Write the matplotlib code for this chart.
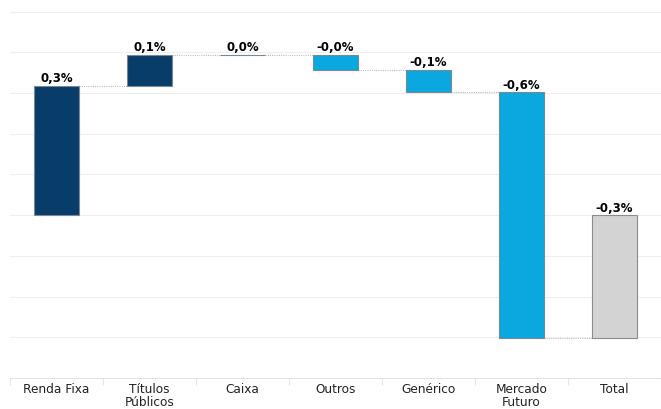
import matplotlib
matplotlib.use("Agg")
import matplotlib.pyplot as plt
import numpy as np

categories = ["Renda Fixa", "Títulos\nPúblicos", "Caixa", "Outros", "Genérico", "Mercado\nFuturo", "Total"]
values = [0.318, 0.076, 0.0005, -0.037, -0.056, -0.603]
labels = ["0,3%", "0,1%", "0,0%", "-0,0%", "-0,1%", "-0,6%", "-0,3%"]

navy = "#083c69"
light_blue = "#0ba8e0"
total_color = "#d3d3d3"

fig = plt.figure(figsize=(6.61, 4.10), dpi=100)
ax = fig.add_axes([10 / 661, 31 / 410, 651 / 661, 377 / 410])

cum = np.concatenate([[0], np.cumsum(values)])
total = cum[-1]
width = 0.49

for i, v in enumerate(values):
    start = cum[i]
    if i == 2:
        color = "#bbbbbb"
    elif v >= 0:
        color = navy
    else:
        color = light_blue
    ax.bar(i, v, bottom=start, width=width, color=color,
           edgecolor="#7a8794", linewidth=0.8, zorder=3)
    top = max(start, start + v)
    ax.text(i, top + 0.004, labels[i], ha="center", va="bottom",
            fontsize=8.5, fontweight="bold", zorder=4)

# total bar
n = len(values)
ax.bar(n, total, bottom=0, width=width, color=total_color,
       edgecolor="#8c8c8c", linewidth=0.8, zorder=3)
ax.text(n, 0.004, labels[-1], ha="center", va="bottom",
        fontsize=8.5, fontweight="bold", zorder=4)

# connectors
for i in range(n):
    ax.plot([i + width / 2, i + 1 - width / 2], [cum[i + 1], cum[i + 1]],
            linestyle=(0, (1, 1)), color="#bfbfbf", linewidth=0.8, zorder=2)

ax.set_xlim(-0.5, 6.43)
ax.set_ylim(-0.4, 0.526)
ax.set_yticks(np.arange(-0.3, 0.51, 0.1))
ax.yaxis.grid(True, color="#eeeeee", linewidth=0.8, zorder=0)
ax.tick_params(axis="y", left=False, labelleft=False)

ax.set_xticks(range(len(categories)))
ax.set_xticklabels(categories, fontsize=8.7, color="#222222", linespacing=1.0)
ax.tick_params(axis="x", length=0, pad=3)
ax.set_xticks(np.arange(-0.5, 6.6, 1), minor=True)
ax.tick_params(axis="x", which="minor", length=5, color="#e0e6ee", width=0.8)

for s in ["top", "right", "left"]:
    ax.spines[s].set_visible(False)
ax.spines["bottom"].set_color("#dde4ec")
ax.spines["bottom"].set_linewidth(0.8)

fig.savefig("out.png", dpi=100)
